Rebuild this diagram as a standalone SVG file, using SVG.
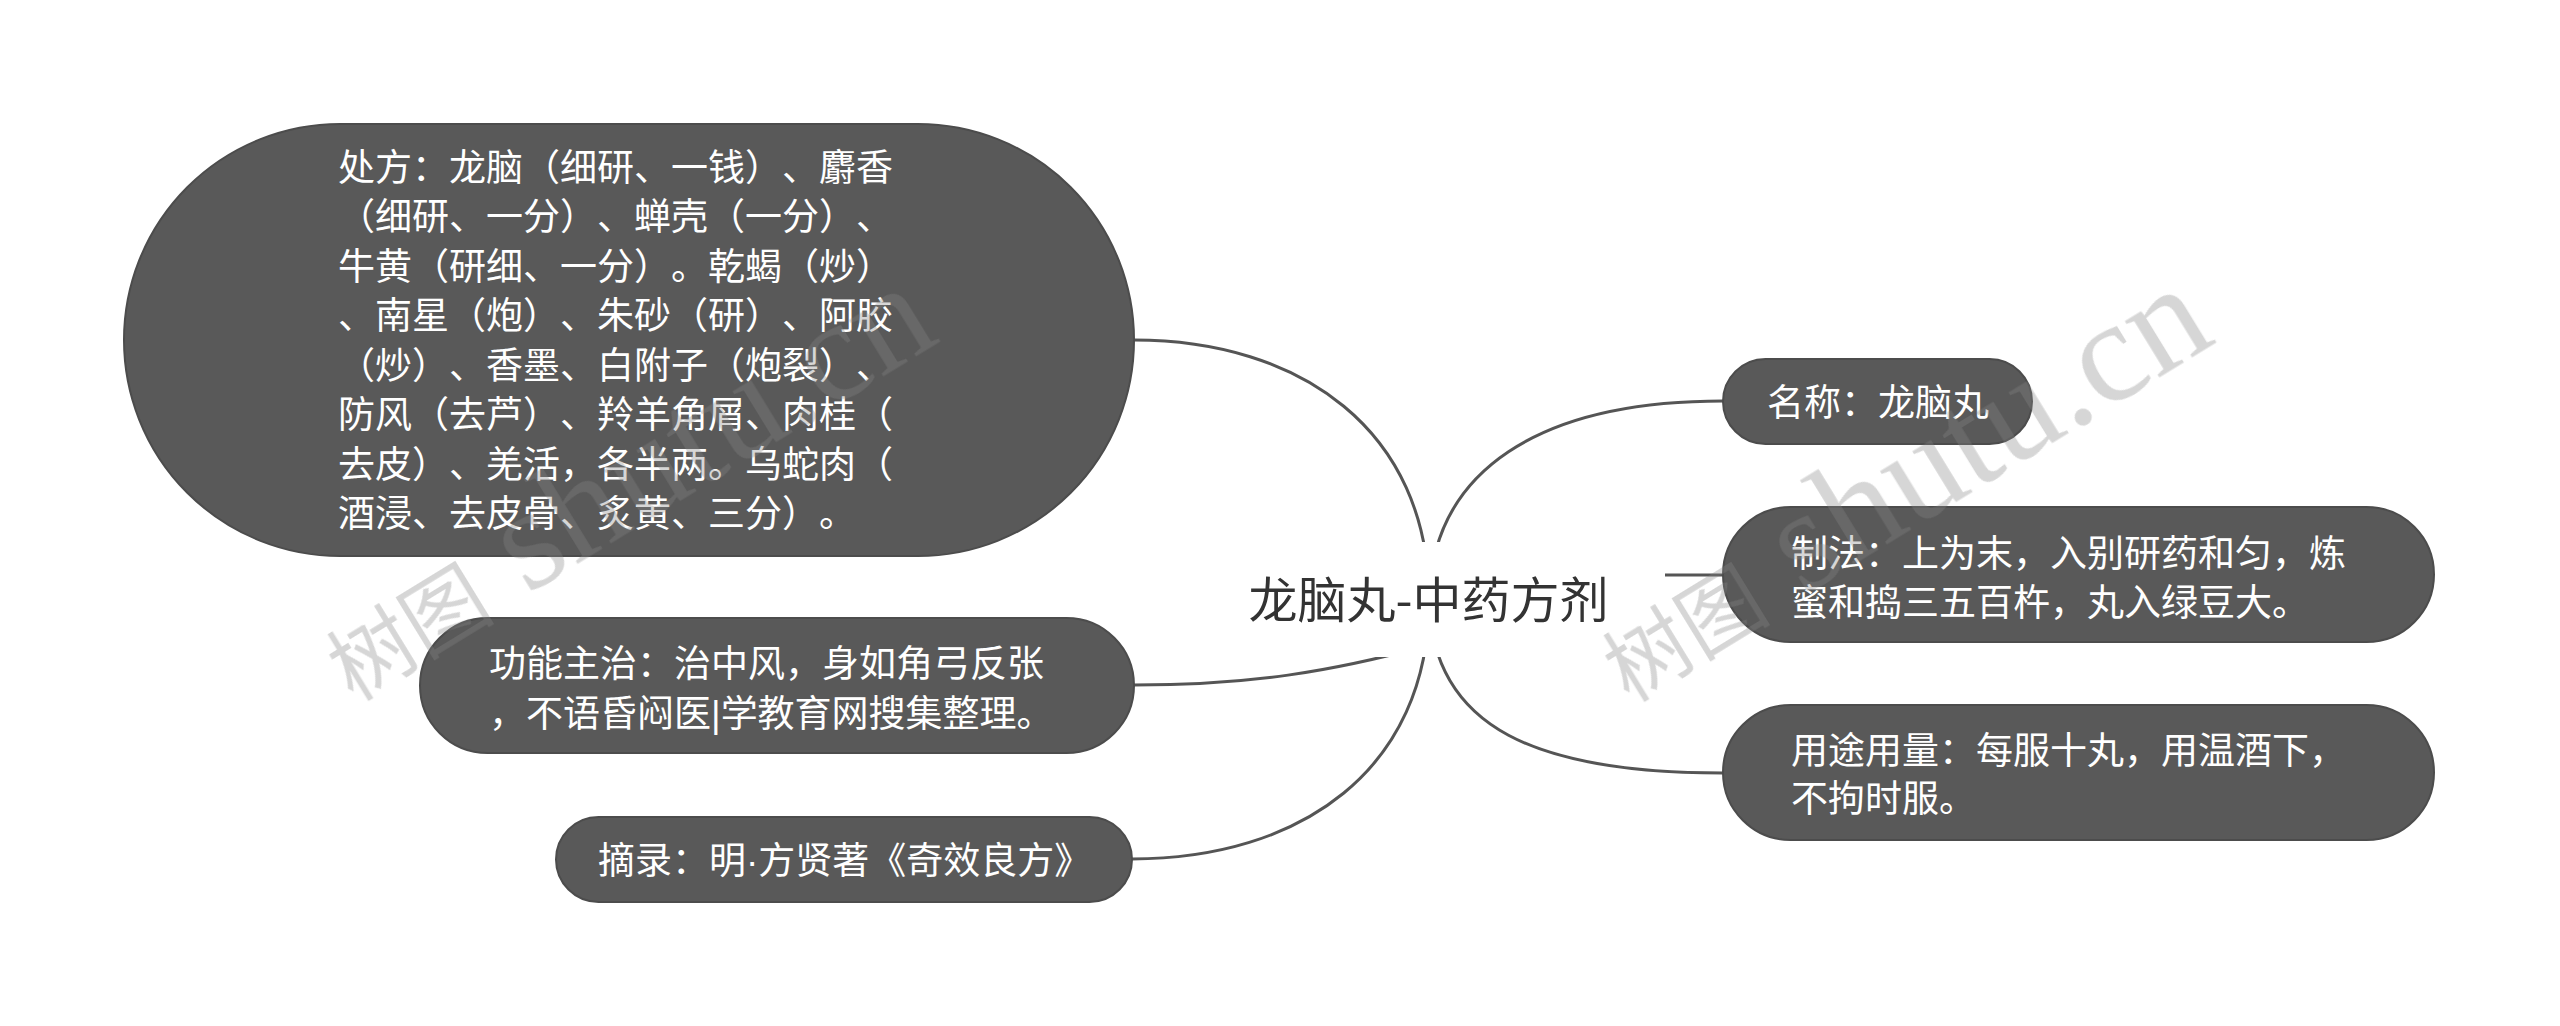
<svg xmlns="http://www.w3.org/2000/svg" width="2560" height="1026" viewBox="0 0 2560 1026">
<style>
text{text-spacing-trim:space-all}
.node rect{fill:#595959;stroke:#4c4c4c;stroke-width:2}
.node text{fill:#ffffff;font-family:"Noto Sans CJK SC","Noto Sans",sans-serif;font-size:37px}
.node .lat{font-family:"Liberation Sans",sans-serif}
.conn path{fill:none;stroke:#555555;stroke-width:3;stroke-linecap:round}
.root text{fill:#333333;font-family:"Noto Sans CJK SC","Noto Sans",sans-serif;font-size:49px}
.wm{fill:#878787;opacity:0.34}
.wm .cjk{font-family:"Noto Sans CJK SC",sans-serif;font-size:84px}
.wm .lat{font-family:"Liberation Serif",serif;font-size:145px}
</style>
<rect x="0" y="0" width="2560" height="1026" fill="#ffffff"/>
<g id="connectors" class="conn">
<path d="M1429,600 C1429,430 1300,340 1134,340"/>
<path d="M1430,645 C1330,672 1250,685 1134,685"/>
<path d="M1429,600 C1429,770 1300,859 1132,859"/>
<path d="M1429,600 C1432,470 1540,401 1723,401"/>
<path d="M1429,575 L1723,575"/>
<path d="M1429,600 C1432,730 1540,773 1723,773"/>
</g>
<g id="root" class="root">
<rect x="1192" y="542" width="473" height="115" fill="#ffffff"/>
<text x="1428.5" y="618" text-anchor="middle">龙脑丸-中药方剂</text>
</g>
<g id="node-chufang" class="node">
<rect x="124" y="124" width="1010" height="432" rx="216" ry="216"/>
<text x="338" y="181">处方：龙脑（细研、一钱）、麝香</text>
<text x="338" y="230.4">（细研、一分）、蝉壳（一分）、</text>
<text x="338" y="279.9">牛黄（研细、一分）。乾蝎（炒）</text>
<text x="338" y="329.3">、南星（炮）、朱砂（研）、阿胶</text>
<text x="338" y="378.7">（炒）、香墨、白附子（炮裂）、</text>
<text x="338" y="428.1">防风（去芦）、羚羊角屑、肉桂（</text>
<text x="338" y="477.6">去皮）、羌活，各半两。乌蛇肉（</text>
<text x="338" y="527">酒浸、去皮骨、炙黄、三分）。</text>
</g>
<g id="node-gongneng" class="node">
<rect x="420" y="618" width="714" height="135" rx="67.5" ry="67.5"/>
<text x="489" y="677">功能主治：治中风，身如角弓反张</text>
<text x="489" y="727">，不语昏闷医<tspan class="lat">|</tspan>学教育网搜集整理。</text>
</g>
<g id="node-zhailu" class="node">
<rect x="556" y="817" width="576" height="85" rx="42.5" ry="42.5"/>
<text x="598" y="874">摘录：明<tspan class="lat">·</tspan>方贤著《奇效良方》</text>
</g>
<g id="node-mingcheng" class="node">
<rect x="1723" y="359" width="309" height="85" rx="42.5" ry="42.5"/>
<text x="1767" y="416">名称：龙脑丸</text>
</g>
<g id="node-zhifa" class="node">
<rect x="1723" y="507" width="711" height="135" rx="67.5" ry="67.5"/>
<text x="1791" y="567">制法：上为末，入别研药和匀，炼</text>
<text x="1791" y="616">蜜和捣三五百杵，丸入绿豆大。</text>
</g>
<g id="node-yongtu" class="node">
<rect x="1723" y="705" width="711" height="135" rx="67.5" ry="67.5"/>
<text x="1791" y="764">用途用量：每服十丸，用温酒下，</text>
<text x="1791" y="812">不拘时服。</text>
</g>
<g id="watermarks" class="wm">
<text transform="translate(353,702) rotate(-31.5)"><tspan class="cjk">树图</tspan><tspan class="lat"> shutu.cn</tspan></text>
<text transform="translate(1629,703) rotate(-31.5)"><tspan class="cjk">树图</tspan><tspan class="lat"> shutu.cn</tspan></text>
</g>
</svg>
